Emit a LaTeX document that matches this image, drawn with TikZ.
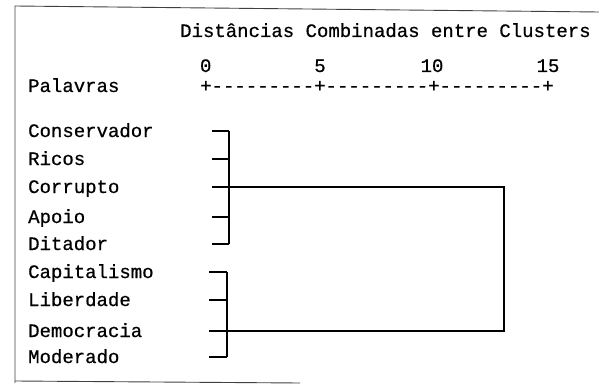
\documentclass[tikz,border=0pt]{standalone}
\usepackage{fontspec}
\newfontfamily\listfont{Liberation Mono}[FakeBold=0.6]
\usetikzlibrary{positioning}
\newcommand\axisdashes{-{}-{}-{}-{}-{}-{}-{}-{}-}

\begin{document}
\begin{tikzpicture}[
    x=1pt, y=-1pt,
    word/.style={anchor=base west, inner sep=0pt, font=\fontsize{19}{19}\selectfont\listfont},
    branch/.style={line width=1.3pt},
    frame/.style={line width=0.9pt, color=black!75}
]
    \useasboundingbox (0,0) rectangle (599,385);

    % frame of the scan
    \draw[frame] (599,12) -- (15,6) -- (15,383);
    \draw[frame] (15,381) -- (300,383);

    % heading and scale
    \node[word] (title) at (180,37) {Distâncias Combinadas entre Clusters};
    \node[word] (palavras) at (28,92) {Palavras};
    \node[word] (axis) at (200,92) {+\axisdashes+\axisdashes+\axisdashes+};
    \node[word, anchor=base] (n0) at (205.7,72) {0};
    \node[word, anchor=base] (n5) at (320,72) {5};
    \node[word, anchor=base] (n10) at (432,72) {10};
    \node[word, anchor=base] (n15) at (548,72) {15};

    % words and leaf ends
    \foreach \name/\txt/\y/\x in {cons/Conservador/137/212, ricos/Ricos/165/212,
        corr/Corrupto/193/212, apoio/Apoio/223/212, dit/Ditador/250/212,
        cap/Capitalismo/278/209, lib/Liberdade/306/209,
        dem/Democracia/337/209, mod/Moderado/363/209}{
        \node[word] (\name) at (28,\y) {\txt};
        \coordinate (leaf\name) at (\x,\y-6);
    }

    \coordinate (joinA) at (229,0);
    \coordinate (joinB) at (227,0);
    \coordinate (root) at (504,0);

    % first cluster
    \foreach \n in {cons,ricos,corr,apoio,dit}
        \draw[branch] (leaf\n) -- (leaf\n -| joinA);
    \draw[branch] (leafcons -| joinA) -- (leafdit -| joinA);

    % second cluster
    \foreach \n in {cap,lib,dem,mod}
        \draw[branch] (leaf\n) -- (leaf\n -| joinB);
    \draw[branch] (leafcap -| joinB) -- (leafmod -| joinB);

    % joining both
    \draw[branch] (leafcorr -| joinA) -- (leafcorr -| root)
        -- (leafdem -| root) -- (leafdem -| joinB);
\end{tikzpicture}
\end{document}
